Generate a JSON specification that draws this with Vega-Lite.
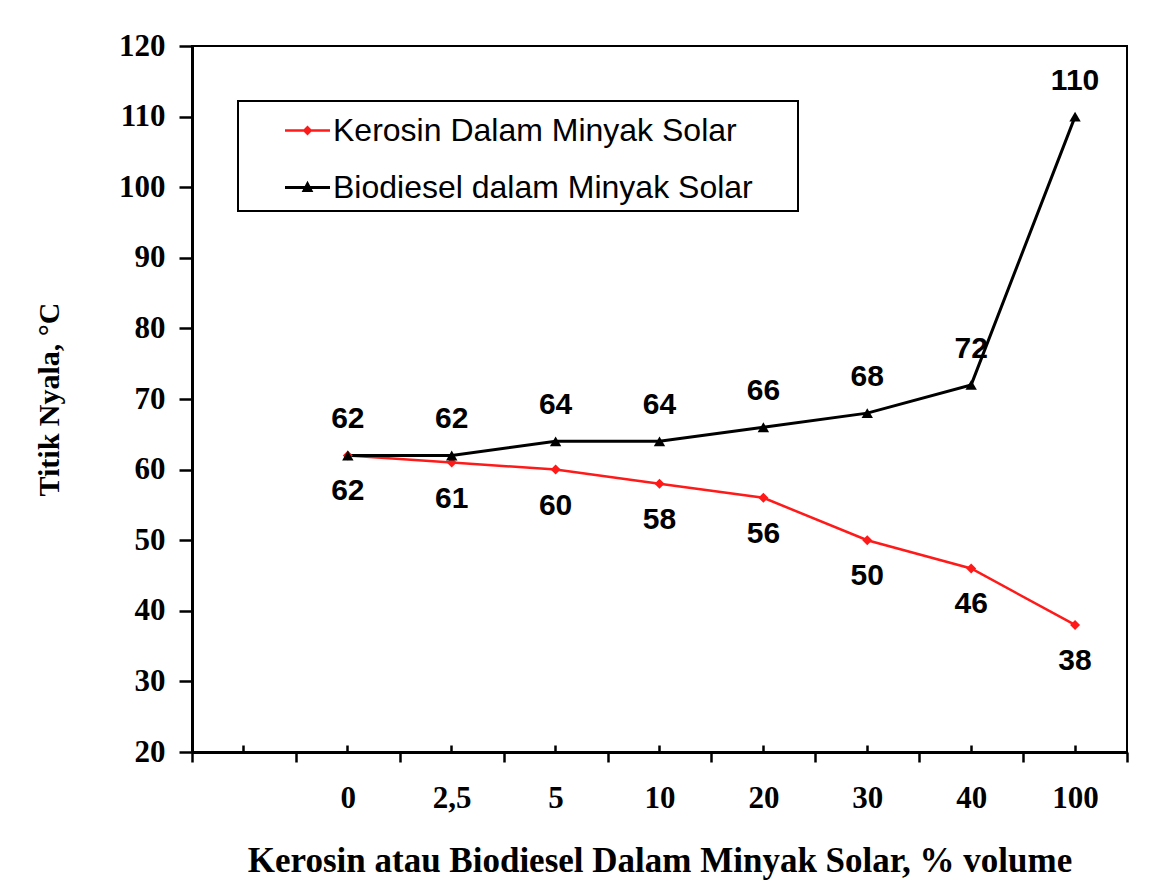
{
  "$schema": "https://vega.github.io/schema/vega-lite/v6.json",
  "width": 935,
  "height": 706,
  "autosize": {"type": "none"},
  "padding": {"left": 192, "top": 46, "right": 46, "bottom": 143},
  "background": "white",
  "config": {
    "view": {"stroke": "black", "strokeWidth": 2},
    "axis": {"grid": false}
  },
  "data": {
    "values": [
      {"x": "0", "series": "Kerosin Dalam Minyak Solar", "y": 62},
      {"x": "2,5", "series": "Kerosin Dalam Minyak Solar", "y": 61},
      {"x": "5", "series": "Kerosin Dalam Minyak Solar", "y": 60},
      {"x": "10", "series": "Kerosin Dalam Minyak Solar", "y": 58},
      {"x": "20", "series": "Kerosin Dalam Minyak Solar", "y": 56},
      {"x": "30", "series": "Kerosin Dalam Minyak Solar", "y": 50},
      {"x": "40", "series": "Kerosin Dalam Minyak Solar", "y": 46},
      {"x": "100", "series": "Kerosin Dalam Minyak Solar", "y": 38},
      {"x": "0", "series": "Biodiesel dalam Minyak Solar", "y": 62},
      {"x": "2,5", "series": "Biodiesel dalam Minyak Solar", "y": 62},
      {"x": "5", "series": "Biodiesel dalam Minyak Solar", "y": 64},
      {"x": "10", "series": "Biodiesel dalam Minyak Solar", "y": 64},
      {"x": "20", "series": "Biodiesel dalam Minyak Solar", "y": 66},
      {"x": "30", "series": "Biodiesel dalam Minyak Solar", "y": 68},
      {"x": "40", "series": "Biodiesel dalam Minyak Solar", "y": 72},
      {"x": "100", "series": "Biodiesel dalam Minyak Solar", "y": 110}
    ]
  },
  "encoding": {
    "x": {
      "field": "x", "type": "nominal", "bandPosition": 0.5, "sort": null,
      "scale": {"type": "band", "domain": ["", "0", "2,5", "5", "10", "20", "30", "40", "100"], "paddingInner": 0, "paddingOuter": 0},
      "axis": null
    },
    "y": {
      "field": "y", "type": "quantitative",
      "scale": {"domain": [20, 120], "nice": false, "zero": false},
      "axis": {
        "values": [20, 30, 40, 50, 60, 70, 80, 90, 100, 110, 120],
        "tickSize": 13, "tickWidth": 2.5, "tickColor": "black",
        "domainColor": "black", "domainWidth": 3,
        "labelFont": "Liberation Serif", "labelFontWeight": "bold", "labelFontSize": 31, "labelColor": "black", "labelPadding": 14,
        "title": "Titik Nyala, °C",
        "titleFont": "Liberation Serif", "titleFontWeight": "bold", "titleFontSize": 30, "titleColor": "black", "titlePadding": 54
      }
    }
  },
  "layer": [
    {
      "transform": [{"filter": "datum.series == 'Kerosin Dalam Minyak Solar'"}],
      "mark": {"type": "line", "color": "#ff1a1a", "strokeWidth": 2.5},
      "encoding": {
        "x": {
          "field": "x", "type": "nominal", "bandPosition": 0.5, "sort": null,
          "scale": {"type": "band", "domain": ["", "0", "2,5", "5", "10", "20", "30", "40", "100"], "paddingInner": 0, "paddingOuter": 0},
          "axis": {
            "orient": "bottom", "tickBand": "extent", "labelAngle": 0,
            "tickSize": 10, "tickWidth": 2.5, "tickColor": "black",
            "domainColor": "black", "domainWidth": 3,
            "labelFont": "Liberation Serif", "labelFontWeight": "bold", "labelFontSize": 31, "labelColor": "black", "labelPadding": 21,
            "title": "Kerosin atau Biodiesel Dalam Minyak Solar, % volume",
            "titleFont": "Liberation Serif", "titleFontWeight": "bold", "titleFontSize": 35, "titleColor": "black", "titlePadding": 30
          }
        }
      }
    },
    {
      "transform": [{"filter": "datum.series == 'Biodiesel dalam Minyak Solar'"}],
      "mark": {"type": "line", "color": "black", "strokeWidth": 3},
      "encoding": {
        "x": {
          "field": "x", "type": "nominal", "bandPosition": 0.5, "sort": null,
          "scale": {"type": "band", "domain": ["", "0", "2,5", "5", "10", "20", "30", "40", "100"], "paddingInner": 0, "paddingOuter": 0},
          "axis": {
            "orient": "bottom", "tickBand": "center", "labels": false, "domain": false, "title": null,
            "tickSize": -7, "tickWidth": 2.5, "tickColor": "black"
          }
        }
      }
    },
    {
      "transform": [{"filter": "datum.series == 'Kerosin Dalam Minyak Solar'"}],
      "mark": {"type": "point", "shape": "diamond", "filled": true, "color": "#ff1a1a", "size": 100, "opacity": 1}
    },
    {
      "transform": [{"filter": "datum.series == 'Biodiesel dalam Minyak Solar'"}],
      "mark": {"type": "point", "shape": "triangle-up", "filled": true, "color": "black", "size": 130, "opacity": 1}
    },
    {
      "transform": [{"filter": "datum.series == 'Kerosin Dalam Minyak Solar'"}],
      "mark": {"type": "text", "dy": 36, "font": "Liberation Sans", "fontWeight": "bold", "fontSize": 30, "color": "black"},
      "encoding": {"text": {"field": "y", "type": "quantitative"}}
    },
    {
      "transform": [{"filter": "datum.series == 'Biodiesel dalam Minyak Solar'"}],
      "mark": {"type": "text", "dy": -36, "font": "Liberation Sans", "fontWeight": "bold", "fontSize": 30, "color": "black"},
      "encoding": {"text": {"field": "y", "type": "quantitative"}}
    },
    {
      "transform": [{"filter": "datum.y < 0"}],
      "mark": {"type": "point", "filled": true, "opacity": 1},
      "encoding": {
        "color": {
          "field": "series", "type": "nominal",
          "scale": {"domain": ["Kerosin Dalam Minyak Solar", "Biodiesel dalam Minyak Solar"], "range": ["#ff1a1a", "black"]},
          "legend": {
            "orient": "none", "legendX": 46, "legendY": 55,
            "title": " ", "titleOrient": "right", "titlePadding": 38, "titleFontSize": 10,
            "strokeColor": "black", "padding": 7, "symbolOffset": 40, "labelOffset": 3,
            "rowPadding": 18, "symbolSize": 2025, "symbolOpacity": 1, "symbolStrokeWidth": 0,
            "labelFont": "Liberation Sans", "labelFontSize": 32, "labelColor": "black", "labelLimit": 800,
            "encode": {"legend": {"update": {"strokeWidth": {"value": 2}}}}
          }
        },
        "shape": {
          "field": "series", "type": "nominal",
          "scale": {
            "domain": ["Kerosin Dalam Minyak Solar", "Biodiesel dalam Minyak Solar"],
            "range": [
              "M-1,-0.06L1,-0.06L1,0.06L-1,0.06Z M-0.22,0L0,-0.22L0.22,0L0,0.22Z",
              "M-1,-0.07L1,-0.07L1,0.07L-1,0.07Z M-0.26,0.2L0,-0.3L0.26,0.2Z"
            ]
          }
        }
      }
    }
  ],
  "resolve": {"axis": {"x": "independent"}}
}
